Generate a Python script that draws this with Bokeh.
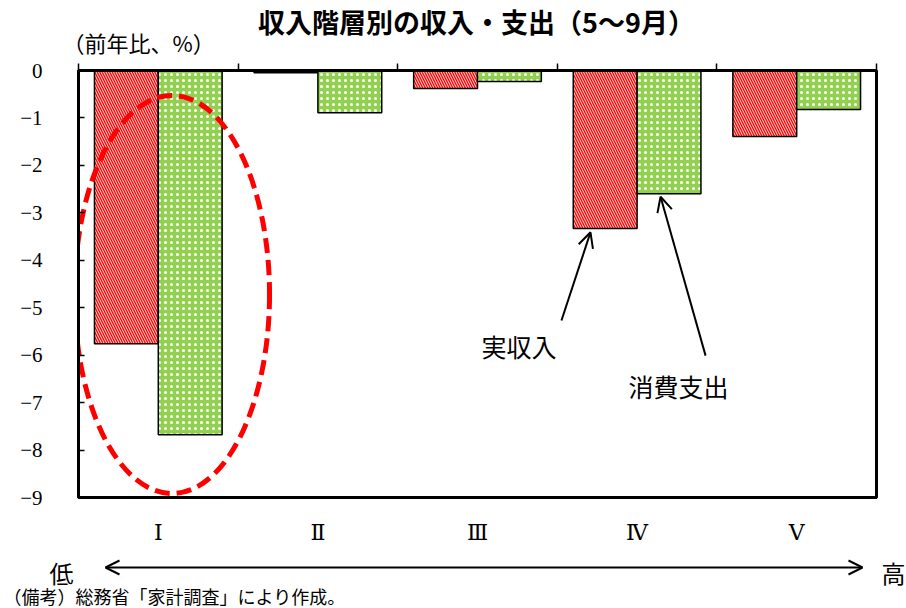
from bokeh.plotting import figure
from bokeh.layouts import column
from bokeh.models import (Range1d, LinearAxis, FixedTicker, Label, Arrow,
                          OpenHead)
from bokeh.embed import file_html
from bokeh.resources import INLINE

# 収入階層（五分位）別、前年比（%）
classes = ["Ⅰ", "Ⅱ", "Ⅲ", "Ⅳ", "Ⅴ"]
income = [-5.76, -0.05, -0.38, -3.33, -1.39]       # 実収入
spending = [-7.68, -0.89, -0.23, -2.60, -0.82]     # 消費支出
y_ticks = [0, -1, -2, -3, -4, -5, -6, -7, -8, -9]

JP = "Noto Sans CJK JP"
SERIF = "Liberation Serif, DejaVu Serif, serif"
W = 906
HEAD_H, MAIN_H, FOOT_H = 59, 488, 61

pos = list(range(1, len(classes) + 1))
bar_w = 0.4


def blank(height):
    """A bare strip whose data units are pixels (y measured upward)."""
    f = figure(width=W, height=height, x_range=Range1d(0, W),
               y_range=Range1d(0, height), x_axis_type=None,
               y_axis_type=None, output_backend="svg", toolbar_location=None,
               min_border=0, frame_align=False)
    f.outline_line_color = None
    f.background_fill_color = "white"
    f.border_fill_color = "white"
    f.xgrid.visible = False
    f.ygrid.visible = False
    return f


def label(fig, x, y, text, size, font=JP, style="normal", align="center"):
    fig.add_layout(Label(x=x, y=y, text=text, text_font=font,
                         text_font_size=size, text_font_style=style,
                         text_align=align, text_baseline="middle",
                         text_color="black"))


# ---- heading strip
head = blank(HEAD_H)
label(head, 476, HEAD_H - 21, "収入階層別の収入・支出（5～9月）", "27px",
      style="bold")
label(head, 62, 18, "（前年比、%）", "22px", align="left")

# ---- main chart
p = figure(width=W, height=MAIN_H,
           x_range=Range1d(0.5, 5.5), y_range=Range1d(-9, 0),
           output_backend="svg", toolbar_location=None,
           min_border_left=78, min_border_right=30,
           min_border_top=11, min_border_bottom=50)
p.background_fill_color = "white"
p.border_fill_color = "white"
p.outline_line_color = "black"
p.outline_line_width = 3
p.xgrid.visible = False
p.ygrid.visible = False

p.vbar(x=[v - bar_w / 2 for v in pos], top=0, bottom=income, width=bar_w,
       fill_color="#FF0000", line_color="black", line_width=1.5,
       hatch_pattern="\\", hatch_color="white", hatch_scale=5,
       hatch_weight=0.9)
p.vbar(x=[v + bar_w / 2 for v in pos], top=0, bottom=spending, width=bar_w,
       fill_color="#92D050", line_color="black", line_width=1.5,
       hatch_pattern=".", hatch_color="white", hatch_scale=6,
       hatch_weight=1.3)

# highlight around the lowest income class
p.ellipse(x=1.086, y=-4.72, width=1.222, height=8.39,
          fill_alpha=0, line_color="#FF0000", line_width=5,
          line_dash="15 7")

yax = p.yaxis[0]
yax.ticker = FixedTicker(ticks=y_ticks)
yax.axis_line_width = 3
yax.major_tick_in = 6
yax.major_tick_out = 0
yax.minor_tick_line_color = None
yax.major_tick_line_width = 1.5
yax.major_label_standoff = 36
yax.major_label_text_font = SERIF
yax.major_label_text_font_size = "21px"
yax.major_label_text_color = "black"

xax = p.xaxis[0]
xax.ticker = FixedTicker(ticks=pos)
xax.major_label_overrides = {v: c for v, c in zip(pos, classes)}
xax.axis_line_width = 3
xax.major_tick_in = 0
xax.major_tick_out = 0
xax.minor_tick_line_color = None
xax.major_label_standoff = 22
xax.major_label_text_font = SERIF
xax.major_label_text_font_size = "22px"
xax.major_label_text_color = "black"

top_ax = LinearAxis(ticker=FixedTicker(ticks=[v + 0.5 for v in range(0, 6)]),
                    major_label_text_alpha=0, major_label_text_font_size="1px",
                    major_label_standoff=0, major_tick_in=0,
                    major_tick_out=7, major_tick_line_width=1.5,
                    minor_tick_line_color=None, axis_line_width=3)
p.add_layout(top_ax, "above")

label(p, 3.26, -5.8, "実収入", "25px")
label(p, 4.26, -6.66, "消費支出", "25px")

# pointers to the 第Ⅳ階層 bars
for xs, ys, xe, ye in [(3.526, -5.27, 3.708, -3.41),
                       (4.429, -6.01, 4.147, -2.66)]:
    p.add_layout(Arrow(x_start=xs, y_start=ys, x_end=xe, y_end=ye,
                       line_width=2, line_color="black",
                       end=OpenHead(size=15, line_width=2,
                                    line_color="black")))

# ---- footer: 低 ←→ 高 scale and source note
foot = blank(FOOT_H)
foot.add_layout(Arrow(x_start=105, y_start=FOOT_H - 20, x_end=862,
                      y_end=FOOT_H - 20, line_width=2, line_color="black",
                      start=OpenHead(size=14, line_width=2,
                                     line_color="black"),
                      end=OpenHead(size=14, line_width=2,
                                   line_color="black")))
label(foot, 61, FOOT_H - 25, "低", "24px")
label(foot, 893, FOOT_H - 25, "高", "24px")
label(foot, 3, FOOT_H - 48, "（備考）総務省「家計調査」により作成。", "18px",
      align="left")

layout = column(head, p, foot, spacing=0)
open("out.html", "w").write(file_html(layout, INLINE))
